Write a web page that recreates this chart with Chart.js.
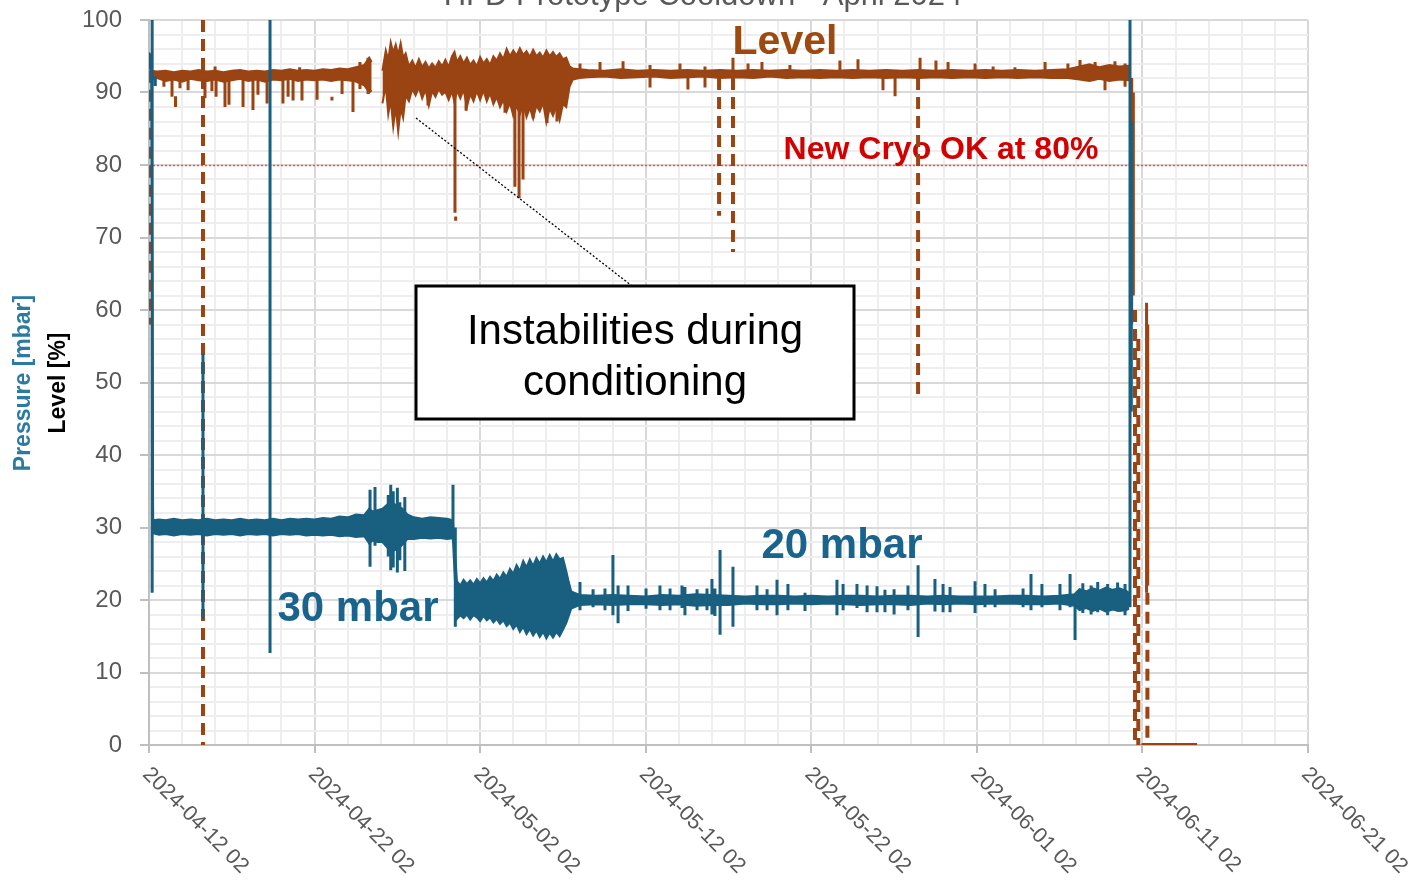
<!DOCTYPE html>
<html><head><meta charset="utf-8">
<script src="https://cdn.jsdelivr.net/npm/chart.js@4.4.1/dist/chart.umd.min.js"></script>
<style>html,body{margin:0;padding:0;background:#fff;overflow:hidden}canvas{display:block}</style>
</head><body>
<canvas id="c" width="1409" height="880"></canvas>
<script>
// ---- axis / labels ----
const chartTitle = 'HFD Prototype Cooldown - April 2024';
const xTickDays = [0, 10, 20, 30, 40, 50, 60, 70];
const xTickLabels = ['2024-04-12 02','2024-04-22 02','2024-05-02 02','2024-05-12 02','2024-05-22 02','2024-06-01 02','2024-06-11 02','2024-06-21 02'];
const threshold = 80;

// ---- Pressure [mbar]: noise band (days since 2024-04-12 02:00) ----
const pDay = [0, 0.15, 0.25, 0.6, 1.0,  1.5, 2.0, 2.5, 3.0, 3.5,  4.0, 4.5, 5.0, 5.5, 6.0,  6.5, 7.0, 7.5, 8.0, 8.5,
  9.0, 9.5, 10.0, 10.5, 11.0,  11.5, 12.0, 12.5, 13.0, 13.3,  13.5, 13.8, 14.1, 14.4, 14.7,  15.0, 15.3, 15.6, 16.0, 16.5,
  17.0, 17.5, 18.0, 18.35,
  18.6, 18.8, 19.0, 19.2, 19.4, 19.6, 19.8, 20.0, 20.2, 20.4, 20.6, 20.8, 21.0, 21.2, 21.4, 21.6, 21.8, 22.0, 22.2, 22.4,
  22.6, 22.8, 23.0, 23.2, 23.4, 23.6, 23.8, 24.0, 24.2, 24.4, 24.6, 24.8, 25.0, 25.2, 25.35, 25.5,
  26, 27, 28,
  29, 30, 31, 32, 33, 34, 35, 36, 37, 38, 39, 40, 41, 42, 43, 44, 45, 46, 47, 48, 49, 50, 51, 52, 53, 54, 55,
  55.9, 56.2, 56.6, 57.0, 57.4,  57.8, 58.2, 58.6, 59.0, 59.2];
const pMax = [95.5, 95.0, 31.0, 31.1, 31.0,  31.2, 31.0, 31.1, 31.0, 31.2,  31.0, 31.1, 31.0, 31.2, 31.0,  31.1, 31.0, 31.2, 31.0, 31.2,
  31.1, 31.2, 31.1, 31.3, 31.2,  31.5, 31.4, 31.8, 31.7, 32.6,  32.2, 32.4, 32.6, 33.2, 33.4,  33.0, 32.6, 31.8, 31.4, 31.2,
  31.4, 31.3, 31.2, 31.0,
  22.6, 22.0, 22.8, 22.2, 22.7, 22.1, 22.9, 22.3, 23.0, 22.4, 23.2, 22.6, 23.5, 22.9, 23.8, 23.2, 24.3, 23.6, 24.8, 24.0,
  25.4, 24.5, 25.6, 24.7, 25.8, 25.0, 26.0, 25.2, 26.2, 25.3, 26.3, 25.6, 25.8, 24.0, 22.5, 21.2,
  20.7, 20.6, 20.7,
  20.6, 20.5, 20.7, 20.6, 20.8, 20.7, 20.6, 20.5, 20.6, 20.6, 20.5, 20.6, 20.5, 20.6, 20.6, 20.5, 20.6, 20.6, 20.5, 20.6, 20.5, 20.5, 20.5, 20.6, 20.6, 20.5, 20.6,
  20.8, 21.5, 21.2, 21.6, 21.3,  21.7, 21.4, 21.6, 21.3, 21.0];
const pMin = [93.8, 92.5, 29.2, 29.0, 29.1,  28.9, 29.1, 29.0, 29.1, 28.9,  29.1, 29.0, 29.1, 28.9, 29.1,  29.0, 29.1, 28.9, 29.1, 29.0,
  29.1, 28.9, 29.0, 28.9, 29.0,  28.8, 28.9, 28.7, 28.8, 27.8,  28.2, 28.0, 28.0, 27.2, 26.8,  27.0, 27.6, 28.4, 28.4, 28.6,
  28.5, 28.6, 28.4, 28.5,
  17.4, 17.9, 17.5, 18.0, 17.3, 17.9, 17.6, 17.1, 17.8, 17.2, 17.6, 16.9, 17.4, 16.7, 17.2, 16.4, 16.9, 16.0, 16.6, 15.6,
  16.3, 15.3, 16.0, 15.1, 15.8, 14.9, 15.6, 14.7, 15.5, 14.8, 15.6, 15.0, 15.9, 16.8, 17.8, 18.8,
  19.3, 19.4, 19.3,
  19.4, 19.4, 19.3, 19.4, 19.2, 19.3, 19.3, 19.5, 19.4, 19.4, 19.5, 19.4, 19.5, 19.4, 19.3, 19.4, 19.4, 19.3, 19.5, 19.4, 19.5, 19.4, 19.5, 19.5, 19.4, 19.4, 19.5,
  19.2, 18.6, 18.9, 18.5, 18.8,  18.4, 18.7, 18.5, 18.6, 18.8];

// ---- Pressure spikes (day, high, low) ----
const pSpikeDay  = [0.19, 0.38, 3.26, 7.31, 13.35, 13.65, 14.45, 14.6, 14.75, 15.0, 15.15, 15.45, 18.36, 18.5,
  26.03, 26.82, 27.54, 28.02, 28.33, 28.93, 30.02, 30.86, 31.47, 32.19, 32.37, 33.10, 33.70, 34.0, 34.18, 34.49, 35.27,
  36.72, 37.33, 37.93, 38.59, 39.62, 41.55, 41.92, 42.76, 43.37, 43.97, 44.45, 45.0, 45.84, 46.45, 47.47, 47.96, 48.38,
  49.89, 50.49, 51.10, 52.79, 53.27, 53.93, 55.02, 55.63, 55.93, 56.4, 56.9, 57.3, 57.9, 58.5, 58.95, 59.25, 59.33];
const pSpikeHigh = [100, 92.2, 54, 100, 35.2, 35.6, 34.5, 35.9, 35.0, 35.5, 33.5, 34.2, 35.9, 30,
  22.5, 21.5, 21.6, 26.2, 22.0, 22.0, 21.6, 22.0, 21.6, 22.0, 21.8, 21.5, 21.6, 22.9, 21.6, 26.9, 24.6,
  22.0, 21.5, 22.8, 22.2, 21.0, 22.8, 22.2, 22.2, 22.0, 21.9, 21.4, 21.5, 22.0, 24.8, 22.9, 22.2, 21.8,
  22.6, 22.2, 21.5, 21.6, 23.6, 22.2, 22.2, 23.6, 20.6, 22.3, 22.0, 22.5, 22.2, 22.4, 22.2, 100, 86];
const pSpikeLow  = [21, 90.9, 17.5, 12.7, 24.6, 27.5, 26.0, 24.1, 24.5, 23.8, 25.5, 24.0, 28.6, 16.3,
  18.6, 19.0, 18.6, 17.9, 16.8, 18.5, 18.8, 18.6, 18.6, 18.9, 17.9, 18.6, 18.6, 18.0, 17.8, 15.2, 16.3,
  18.6, 18.6, 17.9, 18.6, 18.5, 17.9, 18.6, 18.9, 18.3, 18.3, 18.3, 18.0, 18.6, 14.9, 18.4, 18.3, 18.3,
  18.2, 19.0, 19.0, 19.0, 18.6, 19.0, 18.6, 19.0, 14.5, 18.2, 18.0, 18.3, 17.9, 18.4, 17.9, 19, 46];

// ---- Level [%]: band ----
const lDay = [0.1, 0.5, 1.0, 1.5, 2.0,  2.5, 3.0, 3.5, 4.0, 4.5,  5.0, 5.5, 6.0, 6.5, 7.0,  7.5, 8.0, 8.5, 9.0, 9.5,
  10.0, 10.5, 11.0, 11.5, 12.0,  12.5, 13.0, 13.3, 13.45, 13.7,
  14.1, 14.3, 14.45, 14.6, 14.75, 14.9, 15.05, 15.2, 15.35, 15.5,
  15.7, 15.9, 16.1, 16.3, 16.5, 16.7, 16.9, 17.1, 17.3, 17.5,
  17.7, 17.9, 18.1, 18.3, 18.45, 18.6, 18.8, 19.0, 19.2, 19.4,
  19.6, 19.8, 20.0, 20.2, 20.4, 20.6, 20.8, 21.0, 21.2, 21.4,
  21.6, 21.8, 22.0, 22.2, 22.4, 22.6, 22.8, 23.0, 23.2, 23.4,
  23.6, 23.8, 24.0, 24.2, 24.4, 24.6, 24.8, 25.0, 25.2, 25.4,
  25.6, 26.0,
  26.5, 27.5, 28.5, 29.5, 30.5, 31.5, 32.5, 33.5, 34.5, 35.5, 36.5, 37.5, 38.5, 39.5, 40.5, 41.5, 42.5, 43.5, 44.5, 45.5,
  46.5, 47.5, 48.5, 49.5, 50.5, 51.5, 52.5, 53.5, 54.5,
  55.5, 56.2, 56.8, 57.4, 58.0,  58.6, 59.2, 59.5, 59.95, 63.3];
const lMax = [93.0, 92.9, 93.0, 92.8, 93.0,  92.9, 93.1, 92.9, 93.0, 92.8,  93.0, 93.1, 92.9, 93.0, 92.9,  93.1, 93.0, 93.2, 93.0, 93.1,
  93.0, 93.2, 93.1, 93.3, 93.2,  93.5, 93.8, 94.8, 94.2, null,
  93.0, 95.8, 94.5, 96.9, 95.5, 96.6, 95.2, 96.8, 94.8, 95.4,
  93.6, 94.4, 93.4, 94.6, 93.5, 94.2, 93.3, 94.0, 93.4, 94.3,
  93.6, 94.5, 93.5, 95.0, 95.6, 94.2, 95.0, 94.0, 94.8, 93.8,
  94.4, 93.6, 94.9, 94.0, 94.6, 93.8, 95.0, 94.4, 95.4, 94.6,
  96.0, 95.0, 95.8, 95.1, 96.1, 95.2, 95.7, 94.9, 95.9, 95.0,
  95.5, 94.8, 95.8, 95.0, 95.6, 94.9, 95.4, 94.6, 94.8, 93.6,
  93.3, 93.2,
  93.1, 93.0, 93.2, 93.0, 93.1, 93.0, 93.1, 93.0, 93.1, 93.0, 93.1, 93.0, 93.1, 93.0, 93.1, 93.0, 93.1, 93.0, 93.1, 93.0,
  93.1, 93.0, 93.1, 93.0, 93.1, 93.0, 93.1, 93.0, 93.1,
  93.2, 93.6, 93.9, 93.5, 93.8,  93.6, 93.7, null, 0.15, 0.15];
const lMin = [91.8, 92.0, 91.6, 91.8, 91.5,  91.9, 91.7, 91.6, 91.8, 91.5,  91.7, 91.9, 91.6, 91.8, 91.5,  91.8, 91.7, 91.9, 91.6, 91.8,
  91.7, 91.8, 91.6, 91.8, 91.7,  91.5, 91.0, 90.0, 90.3, null,
  88.5, 91.0, 87.0, 89.0, 85.3, 88.0, 84.6, 87.8, 86.5, 89.6,
  88.8, 90.5, 89.6, 90.7, 89.2, 90.4, 88.2, 90.2, 89.4, 90.5,
  89.7, 90.1, 89.0, 90.2, 88.6, 90.3, 89.2, 90.4, 88.0, 89.8,
  88.8, 90.2, 89.0, 90.3, 88.8, 89.9, 88.4, 89.4, 88.0, 89.0,
  87.4, 88.6, 86.8, 88.2, 87.0, 88.4, 86.6, 87.9, 86.4, 88.2,
  87.4, 88.6, 85.9, 87.8, 86.8, 88.0, 86.2, 88.4, 88.0, 90.8,
  91.8, 92.0,
  92.1, 92.2, 92.0, 92.1, 92.2, 92.0, 92.1, 92.2, 92.0, 92.1, 92.0, 92.2, 92.0, 92.1, 92.0, 92.1, 92.0, 92.1, 92.0, 92.1,
  92.0, 92.1, 92.0, 92.1, 92.0, 92.1, 92.0, 92.1, 92.0,
  92.0, 91.8, 91.6, 91.9, 91.6,  91.8, 91.7, null, 0, 0];

// ---- Level spikes (solid) ----
const lSpikeDay  = [0.9, 1.39, 1.6, 1.87, 2.36, 3.38, 3.8, 3.99, 4.05, 4.59, 4.83, 5.68, 6.28, 6.58, 7.13, 8.09, 8.4, 8.7, 9.1, 9.24,
  10.15, 11.05, 11.66, 12.32, 12.74, 13.23,
  16.85, 18.48, 18.52, 19.15, 21.5, 22.1, 22.35, 22.59, 23.2, 24.04, 24.64,
  26.03, 27.24, 28.63, 30.26, 32.07, 32.55, 33.58, 35.27, 36.18, 37.02, 38.71, 41.73, 42.82, 44.33, 45.06, 46.57, 47.53, 48.26,
  49.89, 50.98, 52.3, 54.12, 55.5, 56.23, 57.14, 57.74, 58.34, 58.95,
  59.35, 59.45, 60.25, 60.32];
const lSpikeHigh = [92, 92, 89.5, 92, 92, 92, 92, 93.6, 92, 92, 92, 92, 92, 92, 92, 92, 92, 92, 93.5, 92,
  92, 89.4, 92, 92, 94.2, 94.8,
  90, 90, 72.9, 89.5, 89, 90, 89, 88, 88, 87, 88,
  94.0, 94.2, 94.3, 93.8, 94.0, 92.5, 93.6, 94.8, 94.0, 94.2, 93.8, 94.4, 94.6, 92.5, 92.5, 94.8, 94.4, 94.2,
  94.0, 93.6, 93.5, 94.2, 94.0, 94.5, 94.2, 92.5, 94.3, 94.0,
  92, 90, 61, 58];
const lSpikeLow  = [90.8, 89.4, 88.0, 90.6, 90.3, 89.2, 90.2, 92, 89.4, 88.0, 88.3, 88.0, 87.6, 89.7, 88.5, 88.5, 89.4, 88.9, 92, 88.9,
  89.0, 88.9, 89.8, 87.3, 90.5, 89.8,
  88.2, 73.4, 72.3, 87.5, 87.2, 77, 75.4, 78, 86.4, 85.8, 86.0,
  92.5, 92.5, 92.5, 90.7, 92.5, 90.4, 90.7, 92.5, 92.5, 92.5, 92.5, 92.5, 92.5, 90.3, 89.5, 92.5, 92.5, 92.5,
  92.5, 92.5, 92.5, 92.5, 92.5, 92.5, 92.5, 90.3, 92.5, 90.8,
  58, 62, 21, 22];

// ---- Level sparse drops (dashed) ----
const lDropDay  = [0.05, 3.26, 34.43, 35.27, 46.45, 59.55, 59.75, 60.3];
const lDropHigh = [93, 100, 92, 92, 92, 60, 56, 21];
const lDropLow  = [58, 0, 73, 68, 48.3, 0, 0, 0];

// ---------------------------------------------------------------
const FONT = "'Liberation Sans', Arial, Helvetica, sans-serif";
const P_COLOR = '#185f80';
const L_COLOR = '#9a4313';

const pts = (days, vals) => days.map((d, i) => ({x: d, y: vals[i]}));
const segs = (days, hi, lo) => {
  const out = [];
  days.forEach((d, i) => { out.push({x: d, y: hi[i]}, {x: d, y: lo[i]}, {x: d, y: null}); });
  return out;
};

const isMajor = v => Math.abs(v - Math.round(v)) < 1e-6 && Math.round(v) % 10 === 0;

const annot = {
  id: 'annot',
  beforeDatasetsDraw(chart) {
    const {ctx, chartArea: a, scales: {y}} = chart;
    ctx.save();
    ctx.strokeStyle = '#ff4d4d';
    ctx.lineWidth = 1.5;
    ctx.setLineDash([2, 2]);
    const yy = Math.round(y.getPixelForValue(threshold)) + 0.5;
    ctx.beginPath(); ctx.moveTo(a.left, yy); ctx.lineTo(a.right, yy); ctx.stroke();
    ctx.setLineDash([]);
    ctx.textAlign = 'center';
    ctx.textBaseline = 'alphabetic';
    ctx.fillStyle = '#9c4a0f';
    ctx.font = `bold 41px ${FONT}`;
    ctx.fillText('Level', 785, 54);
    ctx.fillStyle = '#d40000';
    ctx.font = `bold 32px ${FONT}`;
    ctx.fillText('New Cryo OK at 80%', 941, 159);
    ctx.fillStyle = '#19648d';
    ctx.font = `bold 42px ${FONT}`;
    ctx.fillText('20 mbar', 842, 558);
    ctx.fillText('30 mbar', 358, 621);
    ctx.restore();
  },
  afterDraw(chart) {
    const {ctx, scales: {x}} = chart;
    ctx.save();
    // title (cut at top)
    ctx.fillStyle = '#595959';
    ctx.font = `31px ${FONT}`;
    ctx.textAlign = 'center';
    ctx.textBaseline = 'alphabetic';
    ctx.fillText(chartTitle, 703, 5);
    // axis titles
    ctx.save();
    ctx.translate(24, 383); ctx.rotate(-Math.PI / 2);
    ctx.textBaseline = 'middle';
    ctx.font = `bold 23px ${FONT}`;
    ctx.fillStyle = '#2b7aa1';
    ctx.fillText('Pressure [mbar]', 0, 0);
    ctx.restore();
    ctx.save();
    ctx.translate(59, 383); ctx.rotate(-Math.PI / 2);
    ctx.textBaseline = 'middle';
    ctx.font = `bold 23px ${FONT}`;
    ctx.fillStyle = '#000';
    ctx.fillText('Level [%]', 0, 0);
    ctx.restore();
    // x tick labels rotated
    ctx.font = `21.5px ${FONT}`;
    ctx.fillStyle = '#595959';
    ctx.textAlign = 'left';
    ctx.textBaseline = 'middle';
    xTickDays.forEach((d, i) => {
      const px = x.getPixelForValue(d);
      ctx.save();
      ctx.translate(px - 3, 771);
      ctx.rotate(Math.PI / 4);
      ctx.fillText(xTickLabels[i], 0, 0);
      ctx.restore();
    });
    // leader line
    ctx.strokeStyle = '#000';
    ctx.lineWidth = 1.3;
    ctx.setLineDash([2, 2]);
    ctx.beginPath(); ctx.moveTo(416, 118); ctx.lineTo(632, 286); ctx.stroke();
    ctx.setLineDash([]);
    // annotation box
    ctx.fillStyle = '#fff';
    ctx.fillRect(416, 286, 438, 133);
    ctx.lineWidth = 3;
    ctx.strokeStyle = '#000';
    ctx.strokeRect(416, 286, 438, 133);
    ctx.fillStyle = '#000';
    ctx.font = `42px ${FONT}`;
    ctx.textAlign = 'center';
    ctx.textBaseline = 'alphabetic';
    ctx.fillText('Instabilities during', 635, 344);
    ctx.fillText('conditioning', 635, 395);
    ctx.restore();
  }
};

const gridColor = c => (c.tick && isMajor(c.tick.value)) ? '#d9d9d9' : '#eeeeee';
const tickColor = c => (c.tick && isMajor(c.tick.value)) ? '#bfbfbf' : 'rgba(0,0,0,0)';

new Chart(document.getElementById('c'), {
  type: 'line',
  data: {
    datasets: [
      {label: 'Pressure min', data: pts(pDay, pMin), borderColor: P_COLOR, borderWidth: 2, pointRadius: 0, fill: false, order: 0},
      {label: 'Pressure max', data: pts(pDay, pMax), borderColor: P_COLOR, backgroundColor: P_COLOR, borderWidth: 2, pointRadius: 0, fill: '-1', order: 0},
      {label: 'Pressure spikes', data: segs(pSpikeDay, pSpikeHigh, pSpikeLow), borderColor: P_COLOR, borderWidth: 3, pointRadius: 0, fill: false, order: 0},
      {label: 'Level min', data: pts(lDay, lMin), borderColor: L_COLOR, borderWidth: 2, pointRadius: 0, fill: false, order: 2},
      {label: 'Level max', data: pts(lDay, lMax), borderColor: L_COLOR, backgroundColor: L_COLOR, borderWidth: 2, pointRadius: 0, fill: '-1', order: 2},
      {label: 'Level spikes', data: segs(lSpikeDay, lSpikeHigh, lSpikeLow), borderColor: L_COLOR, borderWidth: 3, pointRadius: 0, fill: false, order: 2},
      {label: 'Level drops', data: segs(lDropDay, lDropHigh, lDropLow), borderColor: L_COLOR, borderWidth: 4, borderDash: [12, 7], pointRadius: 0, fill: false, order: 2}
    ]
  },
  options: {
    responsive: false,
    animation: false,
    events: [],
    layout: {padding: {left: 0, right: 101, top: 20, bottom: 0}},
    plugins: {legend: {display: false}, tooltip: {enabled: false}, title: {display: false}},
    elements: {line: {tension: 0, borderCapStyle: 'butt'}},
    scales: {
      x: {
        type: 'linear', min: 0, max: 70,
        afterFit(s) { s.height = 135; s.paddingLeft = 0; s.paddingRight = 0; },
        ticks: {stepSize: 2, autoSkip: false, maxRotation: 0, minRotation: 0, callback: () => '', font: {size: 10}},
        grid: {color: gridColor, lineWidth: 2, tickLength: 8, tickColor: tickColor, tickWidth: 2},
        border: {color: '#bfbfbf', width: 2}
      },
      y: {
        min: 0, max: 100,
        afterFit(s) { s.width = 149; s.paddingTop = 0; s.paddingBottom = 0; },
        ticks: {stepSize: 2, autoSkip: false, padding: 18, color: '#595959', font: {size: 24, family: FONT},
          callback: v => isMajor(v) ? String(Math.round(v)) : ''},
        grid: {color: gridColor, lineWidth: 2, tickLength: 9, tickColor: tickColor, tickWidth: 2},
        border: {color: '#bfbfbf', width: 2}
      }
    }
  },
  plugins: [annot]
});
</script>
</body></html>
